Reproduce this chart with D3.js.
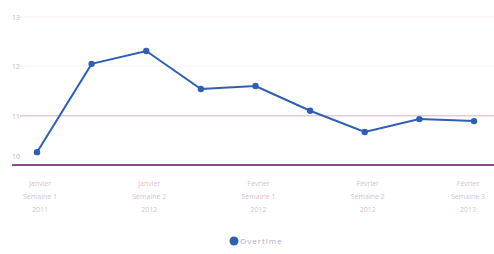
<!DOCTYPE html>
<html>
<head>
<meta charset="utf-8">
<script src="https://cdn.jsdelivr.net/npm/d3@7.9.0/dist/d3.min.js"></script>
<style>
  body { margin: 0; background: #fff; }
  svg { display: block; font-family: "Open Sans", sans-serif; }
</style>
</head>
<body>
<svg id="chart" width="494" height="254"></svg>
<script>
// values per period
const values = [10.26, 12.05, 12.31, 11.54, 11.6, 11.1, 10.67, 10.93, 10.89];
// labels shown under every second point
const xLabels = [
  ['Janvier', 'Semaine 1', '2011'],
  null,
  ['Janvier', 'Semaine 2', '2012'],
  null,
  ['Février', 'Semaine 1', '2012'],
  null,
  ['Février', 'Semaine 2', '2012'],
  null,
  ['Février', 'Semaine 3', '2013']
];
const yTicks = [10, 11, 12, 13];
const seriesName = 'Overtime';

const svg = d3.select('#chart');

let x = d3.scalePoint()
  .domain(d3.range(values.length))
  .range([37, 474]);

let y = d3.scaleLinear()
  .domain([10, 13])
  .range([165, 17]);

// gridlines (only the 11 one shows clearly)
svg.append('g')
  .selectAll('line')
  .data(yTicks.slice(1))
  .join('line')
  .attr('x1', 20).attr('x2', 494)
  .attr('y1', d => y(d)).attr('y2', d => y(d))
  .attr('stroke', d => d === 11 ? '#e6c9dc' : '#fbf6f9')
  .attr('stroke-width', 1.5);

// y labels
svg.append('g')
  .selectAll('text')
  .data(yTicks)
  .join('text')
  .attr('x', 16)
  .attr('y', d => d === 10 ? y(d) - 6 : y(d) + 3)
  .attr('text-anchor', 'middle')
  .attr('font-size', 7)
  .attr('fill', '#c9b8c4')
  .text(d => d);

// x axis line
svg.append('line')
  .attr('x1', 12).attr('x2', 494)
  .attr('y1', y(10)).attr('y2', y(10))
  .attr('stroke', '#8c4a8e')
  .attr('stroke-width', 2);

// x labels
let lab = svg.append('g')
  .selectAll('text')
  .data(xLabels.map((l, i) => ({ l, i })).filter(d => d.l))
  .join('text')
  .attr('text-anchor', 'middle')
  .attr('font-size', 7)
  .attr('fill', '#d7bfd0');

lab.selectAll('tspan')
  .data(d => d.l.map(t => ({ t, i: d.i })))
  .join('tspan')
  .attr('x', d => Math.min(x(d.i) + 3, 468))
  .attr('y', (d, k) => 186 + k * 13)
  .text(d => d.t);

// line + points
let line = d3.line()
  .x((d, i) => x(i))
  .y(d => y(d));

svg.append('path')
  .datum(values)
  .attr('d', line)
  .attr('fill', 'none')
  .attr('stroke', '#2f5fb3')
  .attr('stroke-width', 2);

svg.append('g')
  .selectAll('circle')
  .data(values)
  .join('circle')
  .attr('cx', (d, i) => x(i))
  .attr('cy', d => y(d))
  .attr('r', 3.2)
  .attr('fill', '#2f5fb3');

// legend
svg.append('circle')
  .attr('cx', 234).attr('cy', 241).attr('r', 4.5)
  .attr('fill', '#2f5fb3');
svg.append('text')
  .attr('x', 240).attr('y', 244)
  .attr('font-size', 8)
  .attr('letter-spacing', 1)
  .attr('fill', '#b5a6c6')
  .text(seriesName);
</script>
</body>
</html>
